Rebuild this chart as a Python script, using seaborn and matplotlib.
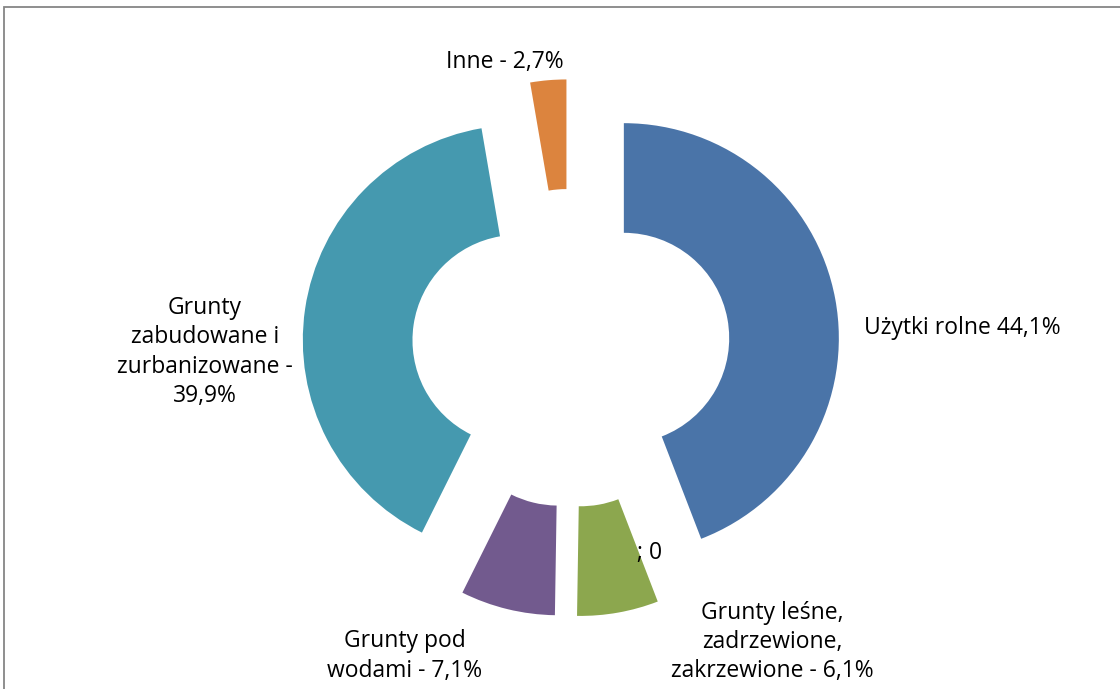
import seaborn as sns
import matplotlib.pyplot as plt
from matplotlib.patches import Rectangle

# Land use structure (clockwise from the top)
categories = ['Użytki rolne', '', 'Grunty leśne, zadrzewione, zakrzewione',
              'Grunty pod wodami', 'Grunty zabudowane i zurbanizowane', 'Inne']
shares = [44.1, 0.0, 6.1, 7.1, 39.9, 2.7]
label_texts = ['Użytki rolne 44,1%', '; 0',
               'Grunty leśne,\nzadrzewione,\nzakrzewione - 6,1%',
               'Grunty pod\nwodami - 7,1%',
               'Grunty\nzabudowane i\nzurbanizowane -\n39,9%',
               'Inne - 2,7%']
colors = ['#4A74A8', '#BE4B48', '#8CA74E', '#725A8E', '#4599AF', '#DC843E']

sns.set_theme(style="white")
plt.rcParams['font.family'] = ['Open Sans', 'DejaVu Sans']

W, H = 1120, 689
fig = plt.figure(figsize=(W / 100, H / 100), dpi=100)
ax = fig.add_axes([0, 0, 1, 1])

# pixel geometry of the donut
cx, cy, R = 571, 348, 215

ax.pie(shares, colors=colors, startangle=90, counterclock=False,
       explode=[0.25] * len(shares), radius=1,
       wedgeprops=dict(width=0.51, edgecolor='none'))

ax.set_xlim(-cx / R, (W - cx) / R)
ax.set_ylim(-(H - cy) / R, cy / R)
ax.set_aspect('equal')
ax.axis('off')

# label anchor points in pixels (x, y from top)
label_pos = [(962, 328), (650, 553), (772, 642), (405, 656), (205, 352), (505, 62)]
for txt, (px, py) in zip(label_texts, label_pos):
    ax.text((px - cx) / R, (cy - py) / R, txt, ha='center', va='center',
            fontsize=16.5, color='black', linespacing=1.3)

# chart frame
fig.add_artist(Rectangle((4 / W, -0.1), 1.2, (H - 7) / H + 0.1,
                         transform=fig.transFigure, fill=False,
                         edgecolor='#868686', linewidth=1.3))

fig.savefig('out.png', dpi=100)
